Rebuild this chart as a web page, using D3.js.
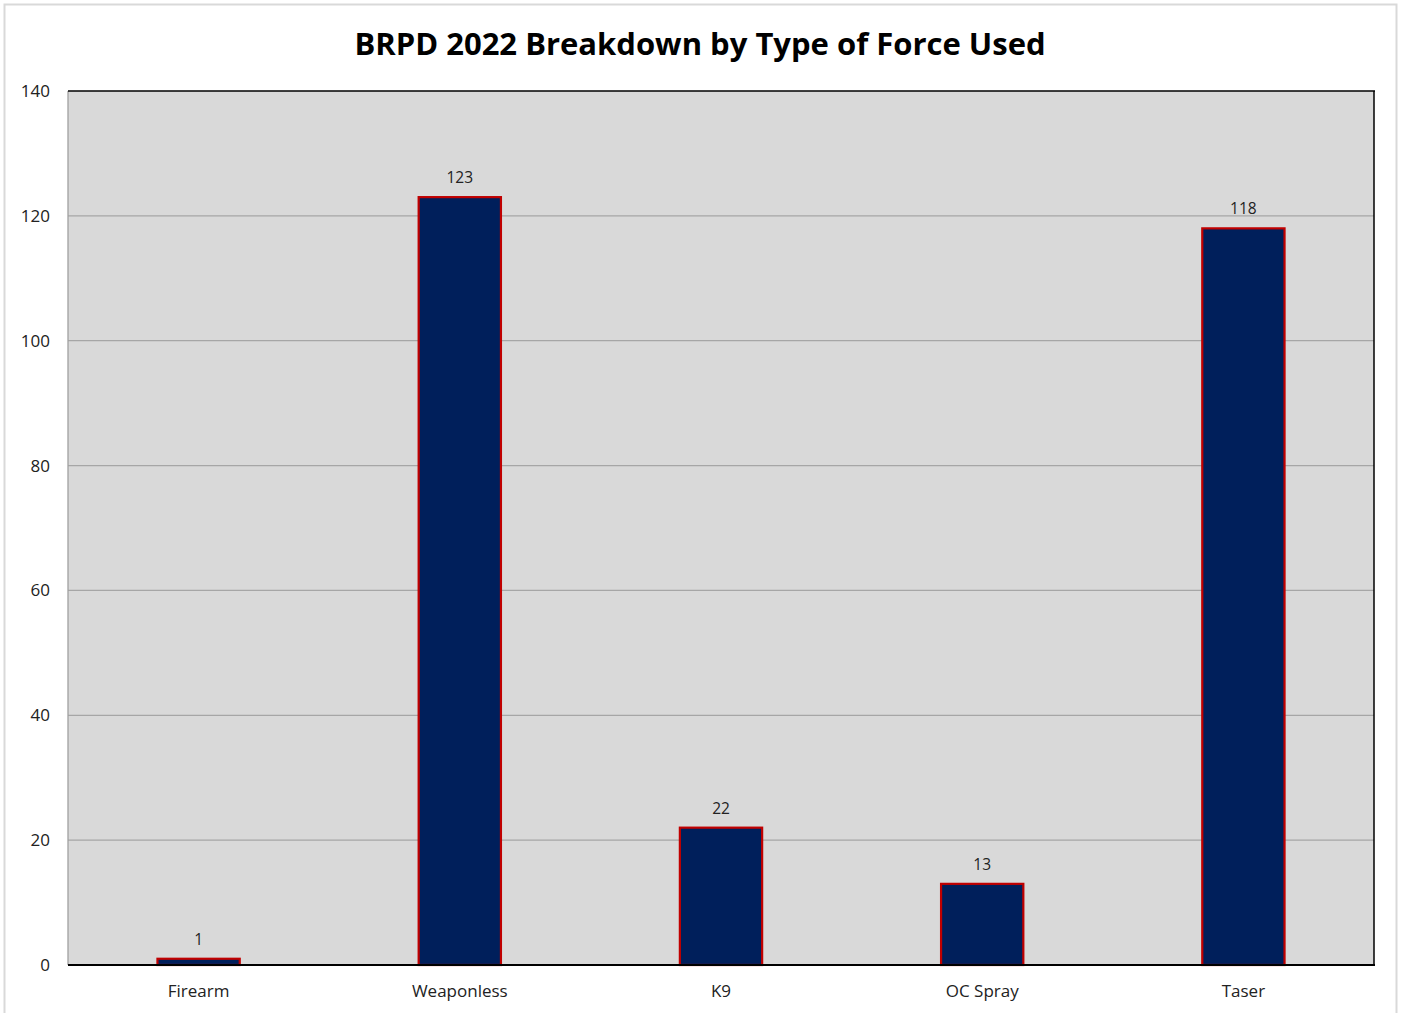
<!DOCTYPE html>
<html><head><meta charset="utf-8">
<script src="https://cdn.jsdelivr.net/npm/d3@7"></script>
<style>body{margin:0;background:#fff;}svg{display:block;font-family:"Open Sans","Noto Sans",sans-serif;}</style>
</head><body>
<script>
const categories = ["Firearm","Weaponless","K9","OC Spray","Taser"];
const values = [1,123,22,13,118];
const yTicks = [0,20,40,60,80,100,120,140];
const title = "BRPD 2022 Breakdown by Type of Force Used";

const W=1403,H=1013;
const svg=d3.select("body").append("svg").attr("width",W).attr("height",H);
svg.append("rect").attr("x",4.5).attr("y",4.5).attr("width",1392).attr("height",1020).attr("fill","#fff").attr("stroke","#d9d9d9").attr("stroke-width",2);

const L=68,R=1374,T=91,B=965;
const x=d3.scaleBand().domain(categories).range([L,R]).paddingInner(0.685).paddingOuter(0.3425);
const y=d3.scaleLinear().domain([0,140]).range([B,T]);

svg.append("rect").attr("x",L).attr("y",T).attr("width",R-L).attr("height",B-T).attr("fill","#d9d9d9");
svg.append("g").selectAll("line").data(yTicks.filter(d=>d>0&&d<140)).join("line")
 .attr("x1",L).attr("x2",R).attr("y1",d=>y(d)).attr("y2",d=>y(d)).attr("stroke","#a6a6a6").attr("stroke-width",1.3);

svg.append("line").attr("x1",L).attr("x2",L).attr("y1",T).attr("y2",B).attr("stroke","#a0a0a0").attr("stroke-width",1.3);
svg.append("line").attr("x1",L).attr("x2",R+1).attr("y1",T).attr("y2",T).attr("stroke","#000").attr("stroke-width",1.5);
svg.append("line").attr("x1",R).attr("x2",R).attr("y1",T).attr("y2",B).attr("stroke","#000").attr("stroke-width",1.5);

svg.append("g").selectAll("rect").data(values).join("rect")
 .attr("x",(d,i)=>x(categories[i])).attr("width",x.bandwidth())
 .attr("y",d=>y(d)).attr("height",d=>B-y(d))
 .attr("fill","#001f5b").attr("stroke","#c00000").attr("stroke-width",2.2);

svg.append("line").attr("x1",L).attr("x2",R+1).attr("y1",B).attr("y2",B).attr("stroke","#000").attr("stroke-width",2);

svg.append("g").selectAll("text").data(values).join("text")
 .attr("x",(d,i)=>x(categories[i])+x.bandwidth()/2).attr("y",d=>y(d)-14)
 .attr("text-anchor","middle").attr("font-size",15.5).attr("fill","#222").text(d=>d);

const ya=svg.append("g").attr("transform",`translate(${L},0)`).call(d3.axisLeft(y).tickValues(yTicks).tickSize(0).tickPadding(18));
ya.select(".domain").remove();
ya.selectAll("text").attr("font-size",17).attr("fill","#222").attr("font-family","Open Sans, sans-serif");

const xa=svg.append("g").attr("transform",`translate(0,${B})`).call(d3.axisBottom(x).tickSize(0).tickPadding(20));
xa.select(".domain").remove();
xa.selectAll("text").attr("font-size",17).attr("fill","#222").attr("font-family","Open Sans, sans-serif");

svg.append("text").attr("x",700).attr("y",55).attr("text-anchor","middle").attr("font-size",31).attr("font-weight","bold").attr("fill","#000").text(title);
</script>
</body></html>
